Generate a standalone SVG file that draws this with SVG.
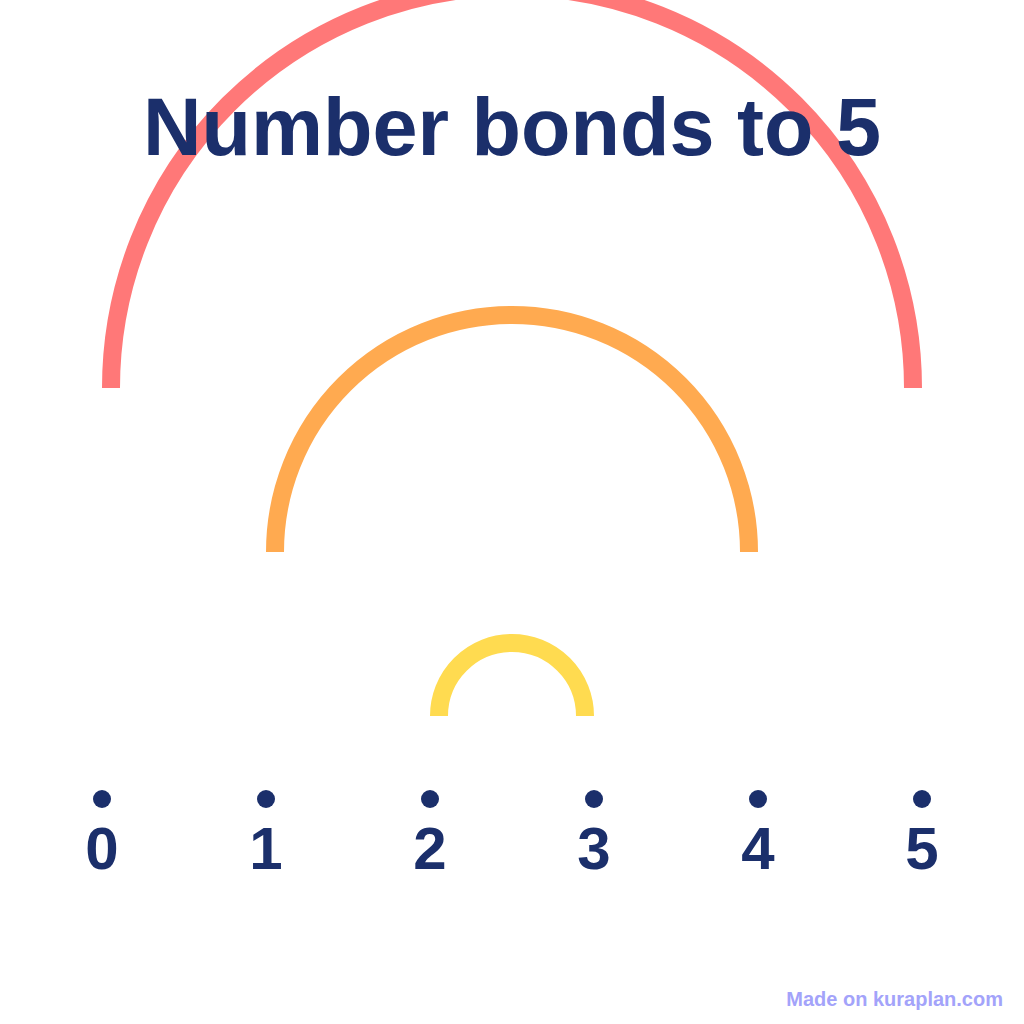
<svg xmlns="http://www.w3.org/2000/svg" width="1024" height="1024" viewBox="0 0 1024 1024">
<style>
.arc{fill:none;stroke-width:18;stroke-linecap:butt}
.dot{fill:#1b2f6b}
.num{font-family:"Liberation Sans",Arial,sans-serif;font-weight:bold;font-size:60px;fill:#1b2f6b;text-anchor:middle}
.title{font-family:"Liberation Sans",Arial,sans-serif;font-weight:bold;font-size:81px;fill:#1b2f6b;text-anchor:middle}
.wm{font-family:"Liberation Sans",Arial,sans-serif;font-weight:bold;font-size:20px;fill:#a3a3fa;text-anchor:end}
</style>
<rect width="1024" height="1024" fill="#ffffff"/>
<g id="connectors">
<path class="arc" stroke="#ff7878" d="M111 388 A401 401 0 0 1 913 388"/>
<path class="arc" stroke="#ffaa50" d="M275 552 A237 237 0 0 1 749 552"/>
<path class="arc" stroke="#ffdb50" d="M439 716 A73 73 0 0 1 585 716"/>
</g>
<text id="title" class="title" x="512" y="155">Number bonds to 5</text>
<g id="n0"><circle class="dot" cx="102" cy="799" r="9"/><text class="num" x="102" y="869">0</text></g>
<g id="n1"><circle class="dot" cx="266" cy="799" r="9"/><text class="num" x="266" y="869">1</text></g>
<g id="n2"><circle class="dot" cx="430" cy="799" r="9"/><text class="num" x="430" y="869">2</text></g>
<g id="n3"><circle class="dot" cx="594" cy="799" r="9"/><text class="num" x="594" y="869">3</text></g>
<g id="n4"><circle class="dot" cx="758" cy="799" r="9"/><text class="num" x="758" y="869">4</text></g>
<g id="n5"><circle class="dot" cx="922" cy="799" r="9"/><text class="num" x="922" y="869">5</text></g>
<text id="watermark" class="wm" x="1003" y="1006">Made on kuraplan.com</text>
</svg>
